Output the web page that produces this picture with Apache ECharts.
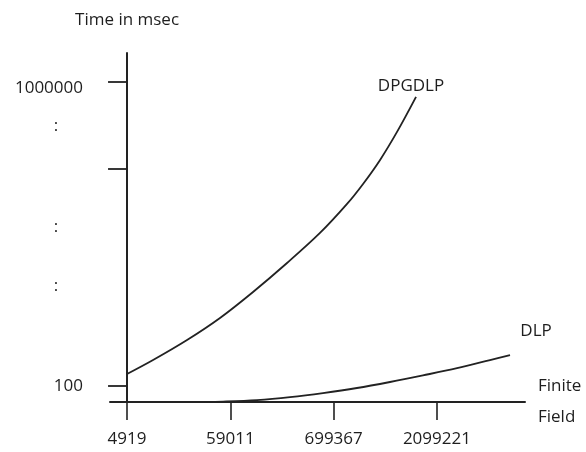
<!DOCTYPE html>
<html><head><meta charset="utf-8">
<script src="https://cdn.jsdelivr.net/npm/echarts@6/dist/echarts.min.js"></script>
<style>html,body{margin:0;padding:0;background:#fff}#c{width:586px;height:452px}</style>
</head><body><div id="c"></div>
<script>
// Finite field sizes (x axis, evenly spaced schematic positions 0..3)
const fieldLabels = ['4919', '59011', '699367', '2099221'];
const fieldTickPos = [0, 1, 2, 3];
// Schematic y scale: log10(time in msec)
const yTickValues = [2, 4.855, 6];
const yLabelValues = [2, 3.32, 4.09, 5.42, 6];
const yLabelNames = { '2': '100', '6': '1000000' };
// DPGDLP curve (x position, log10 ms)
const dpgdlpX = [0, 0.252, 0.581, 0.9, 1.22, 1.549, 1.868, 2.13, 2.285, 2.45, 2.614, 2.798];
const dpgdlpY = [2.158, 2.342, 2.605, 2.895, 3.237, 3.618, 4.013, 4.395, 4.658, 4.974, 5.342, 5.803];
// DLP curve
const dlpX = [0.75, 0.93, 1.258, 1.578, 1.897, 2.226, 2.546, 2.865, 3.195, 3.514, 3.708];
const dlpY = [1.79, 1.795, 1.816, 1.855, 1.908, 1.974, 2.053, 2.14, 2.235, 2.342, 2.408];

const FONT = 'Open Sans';
const TXT = '#1e1e1e';
const INK = '#222222';

function build(xs, ys, name, lab) {
  return xs.map((x, i) => {
    const d = { value: [x, ys[i]] };
    if (i === xs.length - 1) {
      d.label = Object.assign({ show: true, formatter: name, color: TXT, fontFamily: FONT, fontSize: 17 }, lab);
    }
    return d;
  });
}

const chart = echarts.init(document.getElementById('c'));
chart.setOption({
  animation: false,
  backgroundColor: '#ffffff',
  grid: { left: 110, right: 61, top: 53, bottom: 50, outerBoundsMode: 'none', containLabel: false },
  xAxis: {
    type: 'value', min: -0.165, max: 3.853,
    name: 'Finite\nField', nameLocation: 'end', nameGap: 13,
    nameTextStyle: { color: TXT, fontFamily: FONT, fontSize: 17, lineHeight: 31, align: 'left', verticalAlign: 'middle' },
    axisLine: { onZero: false, lineStyle: { color: INK, width: 2 } },
    axisTick: { show: true, customValues: fieldTickPos, length: 18, lineStyle: { color: INK, width: 1.6 } },
    axisLabel: { customValues: fieldTickPos, margin: 29, color: TXT, fontFamily: FONT, fontSize: 17,
      formatter: v => fieldLabels[Math.round(v)] },
    splitLine: { show: false }
  },
  yAxis: {
    type: 'value', min: 1.79, max: 6.38,
    name: 'Time in msec', nameLocation: 'end', nameGap: 24,
    nameTextStyle: { color: TXT, fontFamily: FONT, fontSize: 17 },
    axisLine: { onZero: true, lineStyle: { color: INK, width: 2 } },
    axisTick: { show: true, customValues: yTickValues, length: 19, lineStyle: { color: INK, width: 1.8 } },
    axisLabel: { customValues: yLabelValues, margin: 27, color: TXT, fontFamily: FONT, fontSize: 17,
      formatter: v => {
        const k = String(Math.round(v * 1000) / 1000);
        if (yLabelNames[k] === '1000000') return '{b|1000000}';
        if (yLabelNames[k]) return yLabelNames[k];
        return '{d|:}';
      },
      rich: {
        d: { width: 54, align: 'center', color: TXT, fontFamily: FONT, fontSize: 17 },
        b: { padding: [12, 0, 0, 0], color: TXT, fontFamily: FONT, fontSize: 17 }
      }
    },
    splitLine: { show: false }
  },
  series: [
    { name: 'DPGDLP', type: 'line', smooth: 0.35, symbol: 'circle', symbolSize: 0, showSymbol: true,
      lineStyle: { color: INK, width: 1.8 }, itemStyle: { color: INK },
      data: build(dpgdlpX, dpgdlpY, 'DPGDLP', { position: 'top', distance: 2, offset: [-5, 0] }) },
    { name: 'DLP', type: 'line', smooth: 0.35, symbol: 'circle', symbolSize: 0, showSymbol: true,
      lineStyle: { color: INK, width: 1.8 }, itemStyle: { color: INK },
      data: build(dlpX, dlpY, 'DLP', { position: 'top', distance: 15, offset: [26, 0] }) }
  ]
});
</script>
</body></html>
